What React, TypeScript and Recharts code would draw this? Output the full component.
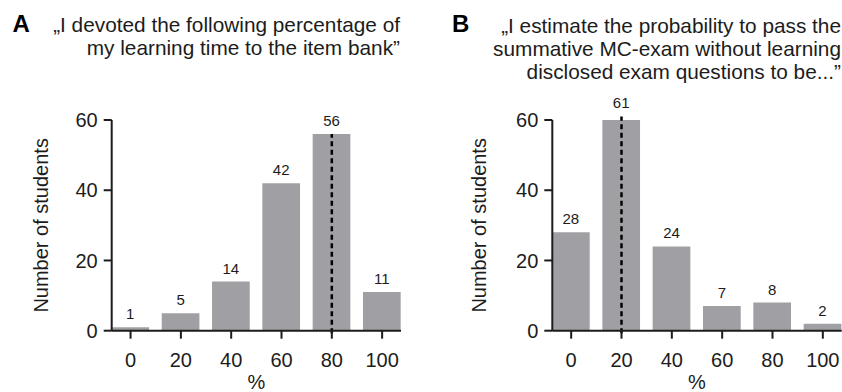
import React from 'react';
import { BarChart, Bar, XAxis, YAxis, ReferenceLine, LabelList } from 'recharts';

const categories = [0, 20, 40, 60, 80, 100];
const timeShareCounts = [1, 5, 14, 42, 56, 11];
const passProbCounts = [28, 61, 24, 7, 8, 2];
const timeShareMedian = 80;
const passProbMedian = 20;
const yTicks = [0, 20, 40, 60];

const titleA = ['„I devoted the following percentage of', 'my learning time to the item bank”'];
const titleB = [
  '„I estimate the probability to pass the',
  'summative MC-exam without learning',
  'disclosed exam questions to be...”',
];

const INK = '#1c1c1c';
const BAR = '#a0a0a4';
const FONT = '"Liberation Sans", Arial, Helvetica, sans-serif';

type PanelProps = {
  left: number;
  counts: number[];
  median: number;
  yAxisWidth: number;
  labelOffset: number;
  marginRight: number;
};

function Panel({ left, counts, median, yAxisWidth, labelOffset, marginRight }: PanelProps) {
  const data = categories.map((c, i) => ({ pct: c, count: counts[i] }));
  const medianCount = counts[categories.indexOf(median)];
  return (
    <div style={{ position: 'absolute', left, top: 0 }}>
      <BarChart
        width={421}
        height={392}
        data={data}
        margin={{ top: 120, right: marginRight, bottom: 0, left: 0 }}
      >
        <XAxis
          dataKey="pct"
          type="number"
          domain={[-7.5, 107.5]}
          ticks={categories}
          interval={0}
          tickSize={8}
          tickMargin={14}
          height={61.3}
          stroke={INK}
          strokeWidth={2}
          tick={{ fill: INK, fontSize: 20 }}
          label={{ value: '%', position: 'insideBottom', offset: 3, fill: INK, fontSize: 20 }}
        />
        <YAxis
          yAxisId="spacer"
          width={16}
          tick={false}
          axisLine={false}
          tickLine={false}
          domain={[0, 60]}
        />
        <YAxis
          yAxisId="main"
          width={yAxisWidth}
          domain={[0, 60]}
          ticks={yTicks}
          allowDataOverflow
          tickSize={8}
          tickMargin={6}
          stroke={INK}
          strokeWidth={2}
          tick={{ fill: INK, fontSize: 20 }}
          label={{
            value: 'Number of students',
            angle: -90,
            position: 'insideLeft',
            offset: labelOffset,
            fill: INK,
            fontSize: 20,
            style: { textAnchor: 'middle' },
          }}
        />
        <Bar yAxisId="main" dataKey="count" fill={BAR} barSize={37.7} isAnimationActive={false}>
          <LabelList dataKey="count" position="top" offset={8} fill={INK} fontSize={15} />
        </Bar>
        <ReferenceLine
          yAxisId="main"
          ifOverflow="visible"
          segment={[
            { x: median, y: -0.7 },
            { x: median, y: medianCount },
          ]}
          stroke="#000"
          strokeWidth={2.5}
          strokeDasharray="5 3.5"
        />
      </BarChart>
    </div>
  );
}

export default function App() {
  return (
    <div
      style={{
        position: 'absolute',
        left: 0,
        top: 0,
        width: 842,
        height: 392,
        background: '#fff',
        fontFamily: FONT,
      }}
    >
      <Panel left={0} counts={timeShareCounts} median={timeShareMedian} yAxisWidth={95.7} labelOffset={25} marginRight={20} />
      <Panel left={421} counts={passProbCounts} median={passProbMedian} yAxisWidth={115.3} labelOffset={42.3} marginRight={0.3} />
      <svg
        width={842}
        height={392}
        style={{ position: 'absolute', left: 0, top: 0, pointerEvents: 'none' }}
      >
        <text x={12.5} y={31.5} fontSize={24} fontWeight="bold" fill="#000" fontFamily={FONT}>A</text>
        {titleA.map((t, i) => (
          <text key={i} x={400} y={32 + i * 23.2} textAnchor="end" fontSize={20.8} fill={INK} fontFamily={FONT}>
            {t}
          </text>
        ))}
        <text x={452} y={31.5} fontSize={24} fontWeight="bold" fill="#000" fontFamily={FONT}>B</text>
        {titleB.map((t, i) => (
          <text key={i} x={841} y={32.5 + i * 23} textAnchor="end" fontSize={20.8} fill={INK} fontFamily={FONT}>
            {t}
          </text>
        ))}
      </svg>
    </div>
  );
}
